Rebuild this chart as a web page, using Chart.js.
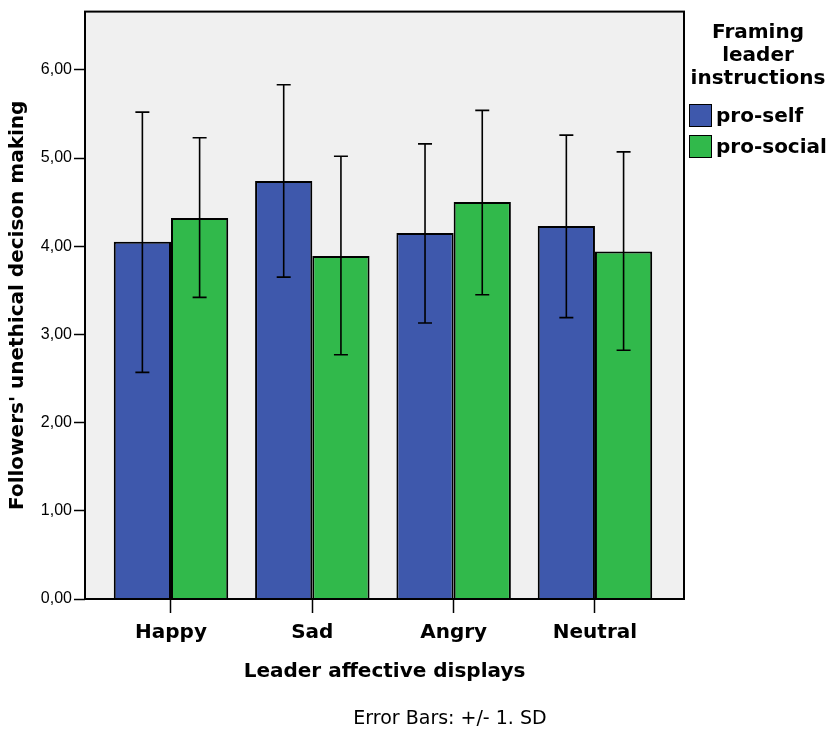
<!DOCTYPE html>
<html>
<head>
<meta charset="utf-8">
<script src="https://cdn.jsdelivr.net/npm/chart.js@4.4.1/dist/chart.umd.min.js"></script>
<style>
    body { margin: 0; background: #fff; }
    #wrap { position: relative; width: 832px; height: 732px; }
    #legend {
        position: absolute; left: 684px; top: 20px; width: 148px;
        font-family: "DejaVu Sans", sans-serif; font-weight: bold; font-size: 20px; color: #000;
    }
    #legend .title { text-align: center; line-height: 23px; }
    #legend .item { position: absolute; left: 5px; white-space: nowrap; line-height: 23px; }
    #legend .box { display: inline-block; width: 21px; height: 21px; border: 1px solid #000; vertical-align: top; margin-right: 4px; }
    #note {
        position: absolute; left: 0; width: 900px; top: 706px; text-align: center;
        font-family: "DejaVu Sans", sans-serif; font-size: 19px; color: #000;
    }
</style>
</head>
<body>
<div id="wrap">
    <canvas id="chart" width="832" height="732"></canvas>
    <div id="legend">
        <div class="title">Framing<br>leader<br>instructions</div>
        <div class="item" style="top:84px"><span class="box" style="background:#3e58ac"></span>pro-self</div>
        <div class="item" style="top:115px"><span class="box" style="background:#31b94b"></span>pro-social</div>
    </div>
    <div id="note">Error Bars: +/- 1. SD</div>
</div>
<script>
// Dados
const categories = ['Happy', 'Sad', 'Angry', 'Neutral'];
const proSelfMean = [4.05, 4.74, 4.15, 4.23];
const proSelfUpper = [5.52, 5.83, 5.16, 5.26];
const proSelfLower = [2.57, 3.65, 3.13, 3.19];
const proSocialMean = [4.32, 3.89, 4.50, 3.94];
const proSocialUpper = [5.23, 5.02, 5.54, 5.07];
const proSocialLower = [3.42, 2.77, 3.45, 2.82];
const yTicks = [0, 1, 2, 3, 4, 5, 6];

const errorUpper = [proSelfUpper, proSocialUpper];
const errorLower = [proSelfLower, proSocialLower];

function toPoints(values) {
    return values.map((v, i) => ({ x: i + 1, y: v }));
}

// Fundo cinza e borda da área do gráfico
const plotBackground = {
    id: 'plotBackground',
    beforeDraw(chart) {
        const { ctx, chartArea: a } = chart;
        ctx.save();
        ctx.fillStyle = '#f0f0f0';
        ctx.fillRect(a.left, a.top, a.right - a.left, a.bottom - a.top);
        ctx.restore();
    },
    afterDatasetsDraw(chart) {
        const { ctx, chartArea: a } = chart;
        ctx.save();
        ctx.strokeStyle = '#000';
        ctx.lineWidth = 2;
        ctx.strokeRect(a.left, a.top, a.right - a.left, a.bottom - a.top);
        ctx.restore();
    }
};

// Barras de erro (+/- 1 DP)
const errorBars = {
    id: 'errorBars',
    afterDatasetsDraw(chart) {
        const { ctx } = chart;
        const yScale = chart.scales.y;
        ctx.save();
        ctx.strokeStyle = '#000';
        ctx.lineWidth = 1.6;
        chart.data.datasets.forEach((ds, i) => {
            const meta = chart.getDatasetMeta(i);
            meta.data.forEach((bar, j) => {
                const x = bar.x;
                const yTop = yScale.getPixelForValue(errorUpper[i][j]);
                const yBot = yScale.getPixelForValue(errorLower[i][j]);
                ctx.beginPath();
                ctx.moveTo(x, yTop);
                ctx.lineTo(x, yBot);
                ctx.moveTo(x - 7, yTop);
                ctx.lineTo(x + 7, yTop);
                ctx.moveTo(x - 7, yBot);
                ctx.lineTo(x + 7, yBot);
                ctx.stroke();
            });
        });
        ctx.restore();
    }
};

new Chart(document.getElementById('chart'), {
    type: 'bar',
    data: {
        datasets: [{
            label: 'pro-self',
            data: toPoints(proSelfMean),
            backgroundColor: '#3e58ac',
            borderColor: '#000',
            borderWidth: 2
        }, {
            label: 'pro-social',
            data: toPoints(proSocialMean),
            backgroundColor: '#31b94b',
            borderColor: '#000',
            borderWidth: 2
        }]
    },
    options: {
        responsive: false,
        animation: false,
        categoryPercentage: 0.81,
        barPercentage: 1,
        layout: { padding: { top: 8, right: 148, left: 0, bottom: 0 } },
        plugins: {
            legend: { display: false },
            tooltip: { enabled: false }
        },
        scales: {
            x: {
                type: 'linear',
                min: 0.3915,
                max: 4.63,
                offset: false,
                afterFit(scale) { scale.height = 133; },
                afterBuildTicks(scale) {
                    scale.ticks = categories.map((c, i) => ({ value: i + 1 }));
                },
                border: { display: false },
                grid: { offset: false, drawOnChartArea: false, drawTicks: true, tickLength: 14, tickColor: '#000', tickWidth: 1.5 },
                ticks: {
                    autoSkip: false,
                    maxRotation: 0,
                    padding: 8,
                    color: '#000',
                    font: { family: 'DejaVu Sans', weight: 'bold', size: 20 },
                    callback: value => categories[value - 1]
                },
                title: {
                    display: true,
                    text: 'Leader affective displays',
                    color: '#000',
                    font: { family: 'DejaVu Sans', weight: 'bold', size: 20 },
                    padding: { top: 0, bottom: 48 }
                }
            },
            y: {
                min: 0,
                max: 6.66,
                afterFit(scale) { scale.width = 85; },
                afterBuildTicks(scale) {
                    scale.ticks = yTicks.map(v => ({ value: v }));
                },
                border: { display: false },
                grid: { drawOnChartArea: false, drawTicks: true, tickLength: 11, tickColor: '#000', tickWidth: 1.5 },
                ticks: {
                    padding: 2,
                    color: '#000',
                    font: { family: 'Liberation Sans', size: 16 },
                    callback: value => value.toFixed(2).replace('.', ',')
                },
                title: {
                    display: true,
                    text: "Followers' unethical decison making",
                    color: '#000',
                    font: { family: 'DejaVu Sans', weight: 'bold', size: 20 },
                    padding: { top: 6, bottom: 0 }
                }
            }
        }
    },
    plugins: [plotBackground, errorBars]
});
</script>
</body>
</html>
